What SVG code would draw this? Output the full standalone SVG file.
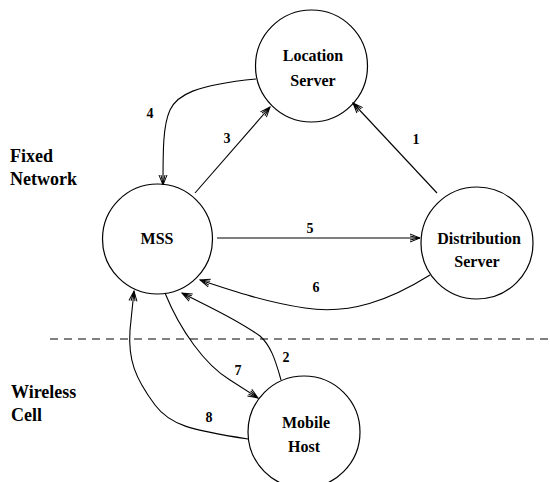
<svg xmlns="http://www.w3.org/2000/svg" width="550" height="482" viewBox="0 0 550 482">
<style>
.node circle{fill:none;stroke:#000;stroke-width:1.2}
.nt{font-family:"Liberation Serif",serif;font-weight:bold;font-size:16px;text-anchor:middle;fill:#000}
.lab{font-family:"Liberation Serif",serif;font-weight:bold;font-size:18px;fill:#000}
.num{font-family:"Liberation Serif",serif;font-weight:bold;font-size:14px;text-anchor:middle;fill:#000}
.edge{fill:none;stroke:#000;stroke-width:1.1}
</style>
<defs>
<marker id="arr" markerUnits="userSpaceOnUse" markerWidth="14" markerHeight="12" viewBox="-12 -6 14 12" refX="0" refY="0" orient="auto">
<path d="M-10,-4 L0,0 L-10,4 M-10,-2 L-1,0 L-10,2" fill="none" stroke="#000" stroke-width="1"/>
</marker>
</defs>
<rect width="550" height="482" fill="#fff"/>
<line x1="50" y1="339" x2="550" y2="339" stroke="#000" stroke-width="1" stroke-dasharray="8,6"/>
<text class="lab" x="10" y="162">Fixed</text>
<text class="lab" x="10" y="185">Network</text>
<text class="lab" x="11" y="398">Wireless</text>
<text class="lab" x="11" y="421">Cell</text>
<g id="location-server" class="node">
<circle cx="311.5" cy="66" r="56"/>
<text class="nt" x="313" y="61">Location</text>
<text class="nt" x="313" y="86">Server</text>
</g>
<g id="mss" class="node">
<circle cx="157.5" cy="239" r="55"/>
<text class="nt" x="157" y="244">MSS</text>
</g>
<g id="distribution-server" class="node">
<circle cx="477" cy="243" r="56"/>
<text class="nt" x="479" y="244">Distribution</text>
<text class="nt" x="477" y="267">Server</text>
</g>
<g id="mobile-host" class="node">
<circle cx="304" cy="432" r="56"/>
<text class="nt" x="306" y="428">Mobile</text>
<text class="nt" x="304" y="452">Host</text>
</g>
<g id="connectors">
<path class="edge" d="M437,193 L353,103" marker-end="url(#arr)"/>
<path class="edge" d="M195,193 L270,107" marker-end="url(#arr)"/>
<path class="edge" d="M256,79 C195,85 177,95 170,110 C163,125 163,150 163,185" marker-end="url(#arr)"/>
<path class="edge" d="M217,238 L420,238" marker-end="url(#arr)"/>
<path class="edge" d="M430,275 C390,300 350,315 305,308 C265,302 230,290 200,280" marker-end="url(#arr)"/>
<path class="edge" d="M165,293 C180,330 205,365 230,380 L258,398" marker-end="url(#arr)"/>
<path class="edge" d="M281,380 C275,358 270,345 260,336 C235,318 205,305 182,293" marker-end="url(#arr)"/>
<path class="edge" d="M248,439 C190,430 170,425 155,405 C135,378 128,360 130,330 L134,291" marker-end="url(#arr)"/>
<text class="num" x="416" y="144">1</text>
<text class="num" x="286" y="362">2</text>
<text class="num" x="227" y="143">3</text>
<text class="num" x="150" y="118">4</text>
<text class="num" x="310" y="233">5</text>
<text class="num" x="316" y="292">6</text>
<text class="num" x="238" y="375">7</text>
<text class="num" x="209" y="422">8</text>
</g>
</svg>
